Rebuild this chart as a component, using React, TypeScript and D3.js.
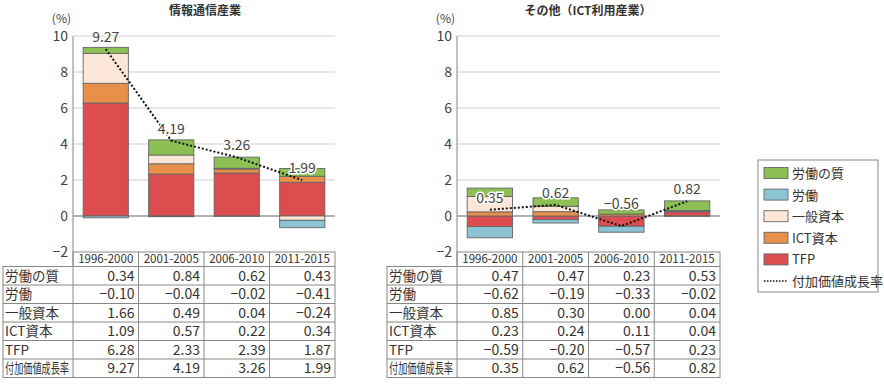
import React from "react";
import * as d3 from "d3";

const periods = ["1996-2000", "2001-2005", "2006-2010", "2011-2015"];
const rowLabels = ["労働の質", "労働", "一般資本", "ICT資本", "TFP", "付加価値成長率"];
const stackKeys = ["TFP", "ICT資本", "一般資本", "労働", "労働の質"];
const yTicks = [10, 8, 6, 4, 2, 0, -2];

// 情報通信産業
const ictQuality = [0.34, 0.84, 0.62, 0.43];
const ictLabor = [-0.1, -0.04, -0.02, -0.41];
const ictGeneralCap = [1.66, 0.49, 0.04, -0.24];
const ictIctCap = [1.09, 0.57, 0.22, 0.34];
const ictTfp = [6.28, 2.33, 2.39, 1.87];
const ictGrowth = [9.27, 4.19, 3.26, 1.99];

// その他（ICT利用産業）
const otherQuality = [0.47, 0.47, 0.23, 0.53];
const otherLabor = [-0.62, -0.19, -0.33, -0.02];
const otherGeneralCap = [0.85, 0.3, 0.0, 0.04];
const otherIctCap = [0.23, 0.24, 0.11, 0.04];
const otherTfp = [-0.59, -0.2, -0.57, 0.23];
const otherGrowth = [0.35, 0.62, -0.56, 0.82];

const colors: Record<string, string> = {
  労働の質: "#8cc055",
  労働: "#8cc4d4",
  一般資本: "#fbe6d8",
  ICT資本: "#e8904a",
  TFP: "#db4d4f",
};

const FONT = "'Noto Sans CJK JP', 'Noto Sans', sans-serif";
const fmt = (v: number) => (v < 0 ? "−" + Math.abs(v).toFixed(2) : v.toFixed(2));

type PanelProps = {
  title: string;
  titleX: number;
  tableLeft: number;
  axisX: number;
  right: number;
  quality: number[];
  labor: number[];
  generalCap: number[];
  ictCap: number[];
  tfp: number[];
  growth: number[];
};

const Panel = (p: PanelProps) => {
  const y = d3.scaleLinear().domain([-2, 10]).range([252, 36]);
  const x = d3.scaleBand().domain(periods).range([p.axisX, p.right]).paddingInner(0.31).paddingOuter(0.155);
  const col = d3.scaleBand().domain(periods).range([p.axisX, p.right]);

  const rows = periods.map((per, i) => ({
    period: per,
    労働の質: p.quality[i],
    労働: p.labor[i],
    一般資本: p.generalCap[i],
    ICT資本: p.ictCap[i],
    TFP: p.tfp[i],
  }));
  const series = d3.stack<any>().keys(stackKeys).offset(d3.stackOffsetDiverging)(rows);

  const line = d3
    .line<number>()
    .x((_, i) => col(periods[i])! + col.bandwidth() / 2)
    .y((d) => y(d));

  const tableRows = [p.quality, p.labor, p.generalCap, p.ictCap, p.tfp, p.growth];
  const headerTop = y(-2);
  const headerH = 14.5;
  const rowH = 18.5;
  const bodyTop = headerTop + headerH;

  return (
    <g fontFamily={FONT}>
      <text x={p.titleX} y={15} textAnchor="middle" fontSize={12} fontWeight="bold" fill="#333">
        {p.title}
      </text>
      <text x={p.axisX - 2} y={23} textAnchor="end" fontSize={12} fill="#444">
        (%)
      </text>
      {yTicks.map((t) => (
        <g key={t}>
          {t > -2 && (
            <line
              x1={p.axisX}
              x2={p.right}
              y1={y(t)}
              y2={y(t)}
              stroke={t === 0 ? "#999" : "#d0d0d0"}
              strokeWidth={t === 0 ? 1.3 : 1.2}
            />
          )}
          <text x={p.axisX - 5} y={y(t) + 5} textAnchor="end" fontSize={14} fill="#444">
            {t < 0 ? "−" + Math.abs(t) : t}
          </text>
        </g>
      ))}
      <line x1={p.axisX} x2={p.axisX} y1={y(10)} y2={headerTop} stroke="#999" strokeWidth={1.2} />
      {series.map((s) => (
        <g key={s.key}>
          {s.map((d: any, i: number) =>
            d[1] - d[0] === 0 ? null : (
              <rect
                key={i}
                x={x(periods[i])}
                width={x.bandwidth()}
                y={y(d[1])}
                height={y(d[0]) - y(d[1])}
                fill={colors[s.key]}
                stroke="#666"
                strokeWidth={0.9}
              />
            )
          )}
        </g>
      ))}
      <path d={line(p.growth) || ""} fill="none" stroke="#111" strokeWidth={2} strokeDasharray="2,2" />
      {p.growth.map((v, i) => (
        <text
          key={i}
          x={col(periods[i])! + col.bandwidth() / 2}
          y={y(Math.max(v, 0)) - 7}
          textAnchor="middle"
          fontSize={14}
          fill="#444"
          stroke="#fff"
          strokeWidth={3}
          paintOrder="stroke"
        >
          {fmt(v)}
        </text>
      ))}
      {/* table */}
      <rect
        x={p.axisX}
        y={headerTop}
        width={p.right - p.axisX}
        height={headerH}
        fill="#fff"
        stroke="#888"
        strokeWidth={1}
      />
      {periods.map((per) => (
        <g key={per}>
          <line x1={col(per)} x2={col(per)} y1={headerTop} y2={bodyTop + rowH * 6} stroke="#888" />
          <text x={col(per)! + col.bandwidth() / 2} y={headerTop + 11} textAnchor="middle" fontSize={11.5} fill="#333">
            {per}
          </text>
        </g>
      ))}
      <rect
        x={p.tableLeft}
        y={bodyTop}
        width={p.right - p.tableLeft}
        height={rowH * 6}
        fill="none"
        stroke="#888"
      />
      {tableRows.map((vals, r) => (
        <g key={r}>
          {r > 0 && (
            <line x1={p.tableLeft} x2={p.right} y1={bodyTop + rowH * r} y2={bodyTop + rowH * r} stroke="#888" />
          )}
          <text
            x={p.tableLeft + 2}
            y={bodyTop + rowH * r + 14}
            fontSize={13.5}
            fill="#333"
            textLength={rowLabels[r].length > 5 ? 64 : undefined}
            lengthAdjust="spacingAndGlyphs"
          >
            {rowLabels[r]}
          </text>
          {vals.map((v, i) => (
            <text
              key={i}
              x={col(periods[i])! + col.bandwidth() - 4}
              y={bodyTop + rowH * r + 14}
              textAnchor="end"
              fontSize={14}
              fill="#333"
            >
              {fmt(v)}
            </text>
          ))}
        </g>
      ))}
    </g>
  );
};

const legendItems = ["労働の質", "労働", "一般資本", "ICT資本", "TFP"];

const App = () => {
  return (
    <svg width={884} height={384} style={{ position: "absolute", left: 0, top: 0, background: "#fff" }}>
      <Panel
        title="情報通信産業"
        titleX={205}
        tableLeft={3}
        axisX={73}
        right={335}
        quality={ictQuality}
        labor={ictLabor}
        generalCap={ictGeneralCap}
        ictCap={ictIctCap}
        tfp={ictTfp}
        growth={ictGrowth}
      />
      <Panel
        title="その他（ICT利用産業）"
        titleX={588}
        tableLeft={387}
        axisX={457}
        right={720}
        quality={otherQuality}
        labor={otherLabor}
        generalCap={otherGeneralCap}
        ictCap={otherIctCap}
        tfp={otherTfp}
        growth={otherGrowth}
      />
      <g fontFamily={FONT}>
        <rect x={758} y={160} width={120} height={132} fill="#fff" stroke="#888" />
        {legendItems.map((k, i) => (
          <g key={k} transform={`translate(764,${173 + i * 21.6})`}>
            <rect x={0} y={-5.5} width={24} height={11} fill={colors[k]} stroke="#666" strokeWidth={0.9} />
            <text x={28} y={5} fontSize={13} fill="#333">
              {k}
            </text>
          </g>
        ))}
        <g transform={`translate(764,${173 + 5 * 21.6})`}>
          <line x1={0} x2={24} y1={0} y2={0} stroke="#111" strokeWidth={1.5} strokeDasharray="1.5,1.5" />
          <text x={28} y={5} fontSize={13} fill="#333">
            付加価値成長率
          </text>
        </g>
      </g>
    </svg>
  );
};

export default App;
